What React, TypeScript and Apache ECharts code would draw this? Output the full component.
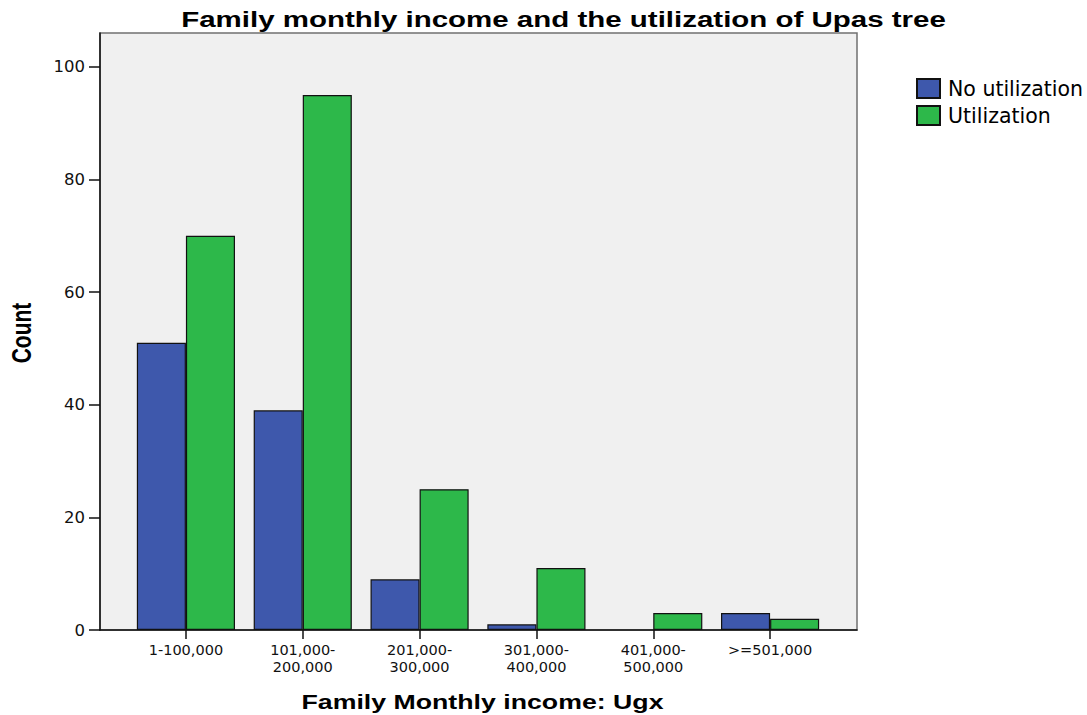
import React, { useEffect, useRef } from "react";
import * as echarts from "echarts";

const categories = ["1-100,000", "101,000-\n200,000", "201,000-\n300,000", "301,000-\n400,000", "401,000-\n500,000", ">=501,000"];
const noUtilization = [51, 39, 9, 1, 0, 3];
const utilization = [70, 95, 25, 11, 3, 2];
const yTicks = [0, 20, 40, 60, 80, 100];
const seriesNames = ["No utilization", "Utilization"];
const titleText = "Family monthly income and the utilization of Upas tree";
const xAxisName = "Family Monthly income: Ugx";
const yAxisName = "Count";

const ARIAL = "'Liberation Sans', Arial, sans-serif";
const WIDE = "'DejaVu Sans', 'Liberation Sans', sans-serif";

const barData = (arr: number[]) =>
  arr.map((v) => (v === 0 ? { value: v, itemStyle: { borderWidth: 0 } } : v));

export default function App() {
  const ref = useRef<HTMLDivElement>(null);
  useEffect(() => {
    if (!ref.current) return;
    const chart = echarts.init(ref.current, null, { renderer: "svg" });
    chart.setOption({
      animation: false,
      backgroundColor: "#fff",
      textStyle: { fontFamily: WIDE },
      graphic: [
        {
          type: "text",
          x: 563.5,
          y: 19,
          scaleX: 1.34,
          style: {
            text: titleText,
            font: `bold 22px ${ARIAL}`,
            fill: "#000",
            align: "center",
            verticalAlign: "middle",
          },
        },
        {
          type: "text",
          x: 482.5,
          y: 702,
          scaleX: 1.37,
          style: {
            text: xAxisName,
            font: `bold 19.5px ${ARIAL}`,
            fill: "#000",
            align: "center",
            verticalAlign: "middle",
          },
        },
        {
          type: "text",
          x: 21,
          y: 333,
          rotation: Math.PI / 2,
          scaleY: 1.34,
          style: {
            text: yAxisName,
            font: `bold 21px ${ARIAL}`,
            fill: "#000",
            align: "center",
            verticalAlign: "middle",
          },
        },
      ],
      legend: {
        orient: "vertical",
        left: 916,
        top: 78,
        padding: 0,
        itemWidth: 23,
        itemHeight: 19,
        itemGap: 6,
        icon: "rect",
        textStyle: { fontFamily: WIDE, fontSize: 20.5, color: "#000", padding: [0, 0, 0, 3] },
        data: seriesNames,
      },
      grid: [
        {
          left: 100, right: 230, top: 33, bottom: 85,
          show: true, backgroundColor: "#F0F0F0", borderColor: "#707070", borderWidth: 1.5,
        },
        {
          left: 127.5, right: 258.5, top: 33, bottom: 85,
        },
      ],
      xAxis: [
        {
          gridIndex: 0, type: "value", min: 0, max: 1,
          axisLine: { show: true, onZero: false, lineStyle: { color: "#111", width: 1.5 } },
          axisTick: { show: false }, axisLabel: { show: false }, splitLine: { show: false },
        },
        {
          gridIndex: 1, type: "category", data: categories,
          axisLine: { show: false },
          axisTick: { show: true, length: 9, alignWithLabel: true, lineStyle: { color: "#111", width: 1.5 } },
          axisLabel: { fontFamily: WIDE, fontSize: 14.5, color: "#111", margin: 11, lineHeight: 17, interval: 0 },
        },
      ],
      yAxis: [
        {
          gridIndex: 0, type: "value", min: 0, max: 106,
          axisLine: { show: true, lineStyle: { color: "#111", width: 1.5 } },
          axisTick: { show: true, length: 11, lineStyle: { color: "#111", width: 1.5 }, customValues: yTicks },
          axisLabel: {
            fontFamily: WIDE, fontSize: 16.5, color: "#111", margin: 15, customValues: yTicks,
            formatter: (v: number) => (v % 20 === 0 ? String(v) : ""),
          },
          splitLine: { show: false },
        },
        {
          gridIndex: 1, type: "value", min: 0, max: 106,
          axisLine: { show: false }, axisTick: { show: false }, axisLabel: { show: false }, splitLine: { show: false },
        },
      ],
      series: [
        {
          name: seriesNames[0], type: "bar", xAxisIndex: 1, yAxisIndex: 1,
          data: barData(noUtilization), barGap: "0%", barCategoryGap: "16%",
          itemStyle: { color: "#3E58AC", borderColor: "#111", borderWidth: 1.2 },
        },
        {
          name: seriesNames[1], type: "bar", xAxisIndex: 1, yAxisIndex: 1,
          data: barData(utilization), barGap: "0%", barCategoryGap: "16%",
          itemStyle: { color: "#2DB84A", borderColor: "#111", borderWidth: 1.2 },
        },
      ],
    });
    return () => chart.dispose();
  }, []);
  return <div ref={ref} style={{ width: 1087, height: 715, position: "absolute", left: 0, top: 0 }} />;
}
